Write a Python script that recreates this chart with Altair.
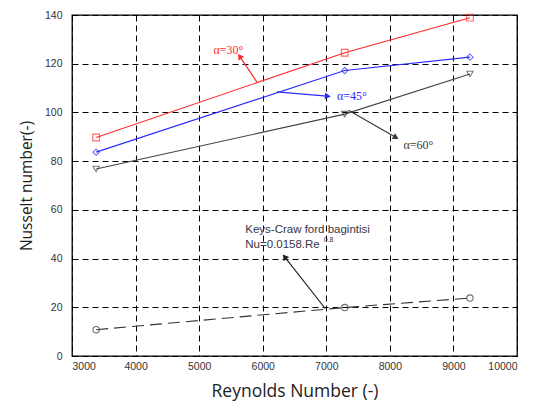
import math
import altair as alt
import pandas as pd

# ---- data ----
re_vals = [3380, 7290, 9260]
nu_30 = [89.7, 124.5, 138.9]
nu_45 = [83.7, 117.2, 122.7]
nu_60 = [76.8, 99.3, 115.8]
nu_kc = [10.8, 19.9, 23.8]

# annotations: label, text x, text y, arrow tail (x, y), arrow tip (x, y), colour
ann_labels = ["α=30°", "α=45°", "α=60°"]
ann_text_x = [5226, 7167, 8214]
ann_text_y = [125.8, 106.7, 86.5]
ann_tail_x = [5909, 6223, 7349, 6983]
ann_tail_y = [112.5, 108.4, 100.9, 19.5]
ann_tip_x = [5646, 7009, 8083, 6354]
ann_tip_y = [122.7, 106.7, 89.9, 40.4]
ann_colors = ["#ff2a2a", "#2a2aff", "#3a3a3a", "#222222"]

kc_line1 = "Keys-Craw ford bagintisi"
kc_line2 = "Nu=0.0158.Re"
kc_sup = "0.8"
kc_text_x = 5725
kc_text_y = [51.6, 45.4]
kc_sup_x = 6960
kc_sup_y = 47.6

x_ticks = list(range(3000, 10001, 1000))
y_ticks = list(range(0, 141, 20))

W, H = 445, 341
XMIN, XMAX, YMIN, YMAX = 3000, 10000, 0, 140

xs = alt.Scale(domain=[XMIN, XMAX], nice=False, zero=False)
ys = alt.Scale(domain=[YMIN, YMAX], nice=False)

xax = alt.Axis(values=x_ticks, format="d", title="Reynolds Number (-)", grid=True,
               ticks=False, domain=False, labelFont="Liberation Sans",
               labelFontSize=10.5, labelColor="#333", labelPadding=5,
               gridColor="#000", gridDash=[6, 4], gridWidth=1,
               titleFont="Open Sans", titleFontSize=17.5, titleFontWeight="normal",
               titleColor="#222", titleY=40, titleBaseline="alphabetic")
yax = alt.Axis(values=y_ticks, format="d", title="Nusselt number(-)", grid=True,
               ticks=False, domain=False, labelFont="Liberation Sans",
               labelFontSize=10.5, labelColor="#333", labelPadding=10,
               gridColor="#000", gridDash=[6, 4], gridWidth=1,
               titleFont="Open Sans", titleFontSize=15.5, titleFontWeight="normal",
               titleColor="#222", titleX=-41, titleBaseline="alphabetic")


def X(f):
    return alt.X(f, scale=xs, axis=xax)


def Y(f):
    return alt.Y(f, scale=ys, axis=yax)


def series_layer(vals, color, shape, size, dash=None):
    df = pd.DataFrame({"Re": re_vals, "Nu": vals})
    base = alt.Chart(df)
    lkw = dict(color=color, strokeWidth=1.1)
    if dash:
        lkw["strokeDash"] = dash
    line = base.mark_line(**lkw).encode(x=X("Re:Q"), y=Y("Nu:Q"))
    pts = base.mark_point(shape=shape, filled=False, color=color, size=size,
                          strokeWidth=1.1).encode(x=X("Re:Q"), y=Y("Nu:Q"))
    return [line, pts]


layers = []
layers += series_layer(nu_30, "#ff2a2a", "square", 45)
layers += series_layer(nu_45, "#2a2aff", "diamond", 40)
layers += series_layer(nu_60, "#444444", "triangle-down", 40)
layers += series_layer(nu_kc, "#333333", "circle", 40, dash=[12, 6])

# arrows
sx = W / (XMAX - XMIN)
sy = H / (YMAX - YMIN)
angles = []
for i in range(4):
    dx = (ann_tip_x[i] - ann_tail_x[i]) * sx
    dys = -(ann_tip_y[i] - ann_tail_y[i]) * sy
    angles.append((math.degrees(math.atan2(dx, -dys)) + 360) % 360)

arr_df = pd.DataFrame({
    "x": ann_tail_x, "y": ann_tail_y, "x2": ann_tip_x, "y2": ann_tip_y,
    "c": ann_colors, "ang": angles,
})
shaft = alt.Chart(arr_df).mark_rule(strokeWidth=1.2).encode(
    x=X("x:Q"), y=Y("y:Q"), x2="x2:Q", y2="y2:Q",
    color=alt.Color("c:N", scale=None))
heads = alt.Chart(arr_df).mark_point(shape="triangle", filled=True, size=45,
                                      opacity=1).encode(
    x=X("x2:Q"), y=Y("y2:Q"),
    angle=alt.Angle("ang:Q", scale=None), color=alt.Color("c:N", scale=None))
layers += [shaft, heads]

txt_df = pd.DataFrame({"x": ann_text_x, "y": ann_text_y, "t": ann_labels,
                       "c": ann_colors[:3]})
txt = alt.Chart(txt_df).mark_text(font="Liberation Serif", fontSize=12, align="left",
                                  baseline="middle").encode(
    x=X("x:Q"), y=Y("y:Q"), text="t:N", color=alt.Color("c:N", scale=None))
layers.append(txt)

kc_df = pd.DataFrame({"x": [kc_text_x, kc_text_x, kc_sup_x],
                      "y": kc_text_y + [kc_sup_y],
                      "t": [kc_line1, kc_line2, kc_sup],
                      "fs": [11.5, 11.5, 7]})
kc = alt.Chart(kc_df).mark_text(font="Liberation Sans", align="left",
                                baseline="middle", color="#3a3346").encode(
    x=X("x:Q"), y=Y("y:Q"), text="t:N", size=alt.Size("fs:Q", scale=None))
layers.append(kc)

chart = alt.layer(*layers).properties(
    width=W, height=H,
    autosize=alt.AutoSizeParams(type="none"),
    padding={"left": 72, "top": 15, "right": 16, "bottom": 45},
    background="white",
).configure_view(stroke="#000", strokeWidth=1.3)

chart.save("out.html", embed_options={"renderer": "svg", "actions": False})
